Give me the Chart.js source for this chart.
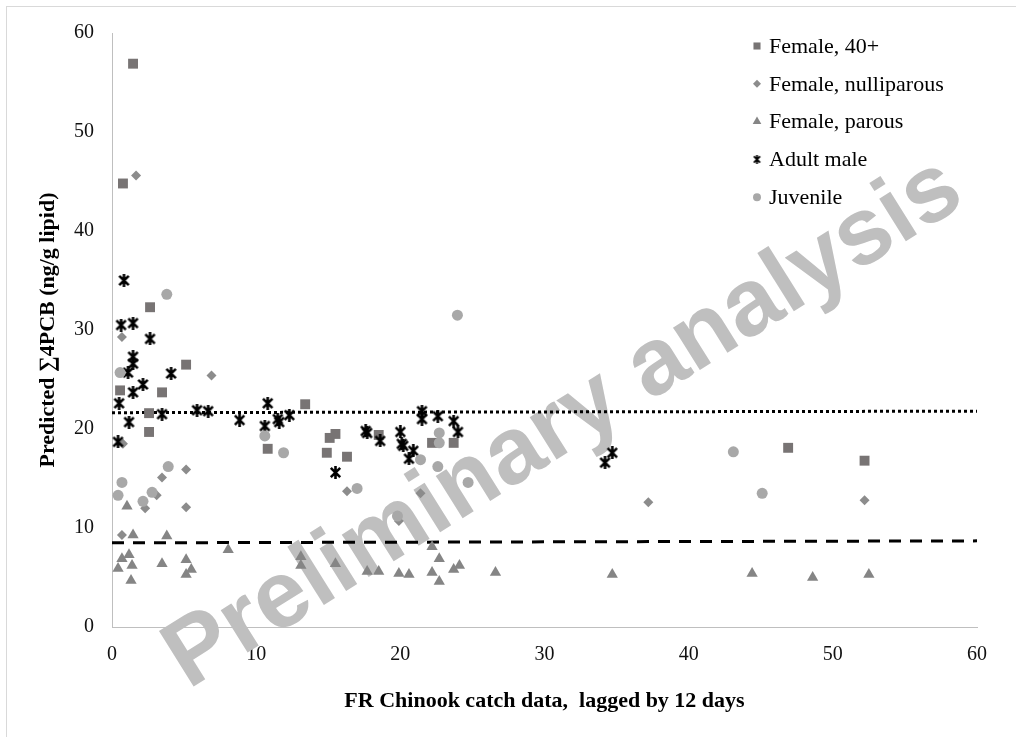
<!DOCTYPE html>
<html>
<head>
<meta charset="utf-8">
<script src="https://cdn.jsdelivr.net/npm/chart.js"></script>
<style>
  html, body { margin: 0; padding: 0; background: #fff; }
  canvas { display: block; }
</style>
</head>
<body>
<canvas id="pcbChart" width="1016" height="737"></canvas>
<script>
// predicted PCB values by fish group, [catch lag x, sum 4PCB y]
const female40 = [
  [1.46, 56.9], [0.76, 44.8], [2.64, 32.3], [5.14, 26.5], [0.56, 23.9], [3.47, 23.7],
  [2.57, 21.6], [2.57, 19.7], [13.4, 22.5], [10.8, 18.0], [15.1, 19.1], [15.5, 19.5],
  [14.9, 17.6], [16.3, 17.2], [18.5, 19.4], [22.2, 18.6], [23.7, 18.6], [46.9, 18.1],
  [52.2, 16.8]
];
const femaleNulli = [
  [1.67, 45.6], [0.69, 29.3], [6.9, 25.4], [0.76, 18.5], [5.14, 15.9], [3.47, 15.1],
  [3.1, 13.3], [2.3, 12.0], [5.14, 12.1], [0.69, 9.3], [16.3, 13.7], [21.4, 13.5],
  [19.9, 10.7], [37.2, 12.6], [52.2, 12.8]
];
const femaleParous = [
  [1.04, 12.2], [1.46, 9.3], [3.8, 9.2], [8.06, 7.8], [0.69, 6.9], [1.18, 7.3],
  [0.42, 5.9], [1.39, 6.2], [3.47, 6.4], [5.14, 6.8], [5.5, 5.8], [5.14, 5.3],
  [1.32, 4.7], [13.1, 7.1], [13.1, 6.2], [15.5, 6.4], [17.7, 5.6], [18.5, 5.6],
  [19.9, 5.4], [20.6, 5.3], [22.2, 8.1], [22.7, 6.9], [22.2, 5.5], [22.7, 4.6],
  [23.7, 5.8], [24.1, 6.2], [26.6, 5.5], [34.7, 5.3], [44.4, 5.4], [48.6, 5.0],
  [52.5, 5.3]
];
const adultMale = [
  [0.83, 35.0], [0.63, 30.5], [1.46, 30.7], [2.64, 29.1], [1.46, 27.3], [1.46, 26.6],
  [1.11, 25.7], [4.1, 25.6], [2.15, 24.5], [1.46, 23.7], [0.49, 22.6], [3.47, 21.5],
  [5.9, 21.9], [6.67, 21.8], [8.85, 20.9], [1.18, 20.7], [0.42, 18.7], [10.8, 22.6],
  [10.6, 20.3], [11.5, 21.0], [11.6, 20.7], [12.3, 21.4], [15.5, 15.6], [17.6, 19.8],
  [17.7, 19.6], [18.6, 18.8], [20.0, 19.7], [20.1, 18.5], [20.2, 18.3], [20.6, 17.0],
  [20.9, 17.8], [21.5, 21.8], [21.5, 21.0], [22.6, 21.3], [23.7, 20.8], [24.0, 19.7],
  [34.7, 17.6], [34.2, 16.6]
];
const juvenile = [
  [3.8, 33.6], [0.56, 25.7], [0.69, 14.6], [0.42, 13.3], [3.9, 16.2], [2.78, 13.6],
  [2.15, 12.7], [10.6, 19.3], [11.9, 17.6], [17.0, 14.0], [19.8, 11.2], [21.4, 16.9],
  [22.7, 19.6], [22.7, 18.6], [22.6, 16.2], [24.7, 14.6], [23.96, 31.5], [43.1, 17.7],
  [45.1, 13.5]
];
// reference levels across the catch range
const upperLine = [[0, 21.65], [60, 21.8]];
const lowerLine = [[0, 8.5], [60, 8.7]];

const xTicks = [0, 10, 20, 30, 40, 50, 60];
const yTicks = [0, 10, 20, 30, 40, 50, 60];

const toXY = arr => arr.map(p => ({ x: p[0], y: p[1] }));

// asterisk marker: an X with a vertical stroke
function makeStar(size, lw) {
  const c = document.createElement('canvas');
  c.width = size; c.height = size;
  const g = c.getContext('2d');
  const m = lw / 2 + 0.5, e = size - m, h = size / 2;
  g.strokeStyle = '#000';
  g.lineWidth = lw;
  g.beginPath();
  g.moveTo(m, m); g.lineTo(e, e);
  g.moveTo(e, m); g.lineTo(m, e);
  g.moveTo(h, 0); g.lineTo(h, size);
  g.stroke();
  return c;
}
const starBig = makeStar(13, 2.6);
const starSmall = makeStar(9, 1.8);

const serif = 'Liberation Serif, Times New Roman, serif';

const watermark = {
  id: 'watermark',
  beforeDatasetsDraw(chart) {
    const ctx = chart.ctx;
    ctx.save();
    ctx.translate(564, 424);
    ctx.rotate(-32 * Math.PI / 180);
    ctx.font = 'bold 95px Liberation Sans, Arial, sans-serif';
    ctx.fillStyle = '#bfbfbf';
    ctx.textAlign = 'center';
    ctx.textBaseline = 'middle';
    ctx.fillText('Preliminary analysis', 0, 0);
    ctx.restore();
  }
};

const frame = {
  id: 'frame',
  beforeDraw(chart) {
    const ctx = chart.ctx;
    ctx.save();
    ctx.strokeStyle = '#d9d9d9';
    ctx.lineWidth = 1;
    ctx.strokeRect(6.5, 6.5, 1020, 740);
    ctx.restore();
  }
};

// legend box in the upper right of the plot
const sideLegend = {
  id: 'sideLegend',
  afterDraw(chart) {
    const ctx = chart.ctx;
    const area = chart.chartArea;
    const x0 = area.right - 220;
    const y0 = area.top + 13;
    const rows = chart.data.datasets.filter(d => d.inLegend);
    ctx.save();
    ctx.font = '22px ' + serif;
    ctx.textBaseline = 'middle';
    ctx.textAlign = 'left';
    rows.forEach((d, i) => {
      const y = y0 + i * 37.8;
      ctx.fillStyle = d.backgroundColor;
      ctx.strokeStyle = d.borderColor;
      ctx.lineWidth = 0;
      Chart.helpers.drawPoint(ctx, {
        pointStyle: d.legendStyle,
        radius: d.legendRadius,
        borderWidth: 0,
        rotation: 0
      }, x0, y);
      ctx.fillStyle = '#000';
      ctx.fillText(d.label, x0 + 12, y + 1);
    });
    ctx.restore();
  }
};

new Chart(document.getElementById('pcbChart'), {
  type: 'scatter',
  data: {
    datasets: [
      {
        label: 'Female, 40+', data: toXY(female40), order: 5, inLegend: true,
        pointStyle: 'rect', pointRadius: 7, legendStyle: 'rect', legendRadius: 5,
        backgroundColor: '#787474', borderColor: '#787474', borderWidth: 0
      },
      {
        label: 'Female, nulliparous', data: toXY(femaleNulli), order: 4, inLegend: true,
        pointStyle: 'rectRot', pointRadius: 5, legendStyle: 'rectRot', legendRadius: 4,
        backgroundColor: '#8c8c8c', borderColor: '#8c8c8c', borderWidth: 0
      },
      {
        label: 'Female, parous', data: toXY(femaleParous), order: 3, inLegend: true,
        pointStyle: 'triangle', pointRadius: 6.5, legendStyle: 'triangle', legendRadius: 5,
        backgroundColor: '#858585', borderColor: '#858585', borderWidth: 0
      },
      {
        label: 'Adult male', data: toXY(adultMale), order: 2, inLegend: true,
        pointStyle: starBig, pointRadius: 6, legendStyle: starSmall, legendRadius: 4,
        backgroundColor: '#000', borderColor: '#000', borderWidth: 0
      },
      {
        label: 'Juvenile', data: toXY(juvenile), order: 1, inLegend: true,
        pointStyle: 'circle', pointRadius: 5.5, legendStyle: 'circle', legendRadius: 4,
        backgroundColor: '#a8a8a8', borderColor: '#a8a8a8', borderWidth: 0
      },
      {
        label: 'upper', data: toXY(upperLine), order: 6, showLine: true,
        pointRadius: 0, borderColor: '#000', borderWidth: 3, borderDash: [3, 3]
      },
      {
        label: 'lower', data: toXY(lowerLine), order: 6, showLine: true,
        pointRadius: 0, borderColor: '#000', borderWidth: 3, borderDash: [12, 9]
      }
    ]
  },
  options: {
    responsive: false,
    animation: false,
    layout: { padding: { left: 35, top: 33, right: 39, bottom: 22 } },
    plugins: {
      legend: { display: false },
      tooltip: { enabled: false }
    },
    scales: {
      x: {
        type: 'linear',
        min: 0, max: 60,
        afterFit: s => { s.height = 88; },
        afterBuildTicks: s => { s.ticks = xTicks.map(v => ({ value: v })); },
        grid: { display: false, drawTicks: false },
        border: { display: true, color: '#bfbfbf', width: 1 },
        ticks: { padding: 16, color: '#111', font: { family: serif, size: 20 } },
        title: {
          display: true,
          text: 'FR Chinook catch data,  lagged by 12 days',
          color: '#000',
          padding: { top: 0, bottom: 0 },
          font: { family: serif, size: 22, weight: 'bold' }
        }
      },
      y: {
        type: 'linear',
        min: 0, max: 60,
        afterFit: s => { s.width = 77; },
        afterBuildTicks: s => { s.ticks = yTicks.map(v => ({ value: v })); },
        grid: { display: false, drawTicks: false },
        border: { display: true, color: '#bfbfbf', width: 1 },
        ticks: { padding: 18, color: '#111', font: { family: serif, size: 20 } },
        title: {
          display: true,
          text: 'Predicted \u22114PCB (ng/g lipid)',
          color: '#000',
          padding: { top: 0, bottom: 0 },
          font: { family: serif, size: 22, weight: 'bold' }
        }
      }
    }
  },
  plugins: [frame, watermark, sideLegend]
});
</script>
</body>
</html>
